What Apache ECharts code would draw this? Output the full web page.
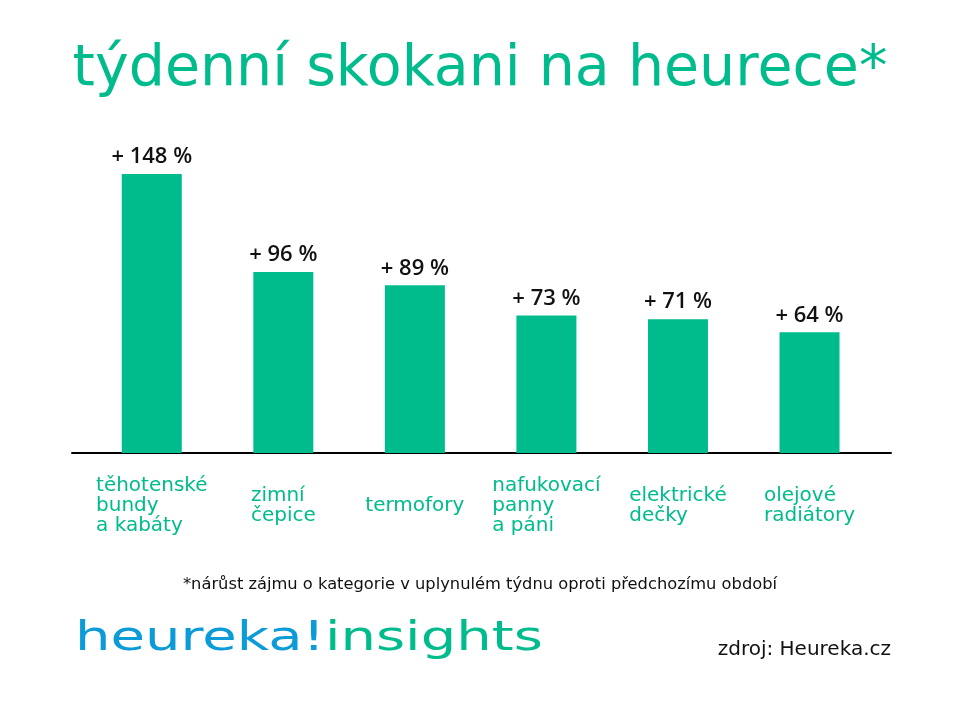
<!DOCTYPE html>
<html>
<head>
<meta charset="utf-8">
<script src="https://cdn.jsdelivr.net/npm/echarts@6/dist/echarts.min.js"></script>
<style>html,body{margin:0;padding:0;background:#fff}#c{width:960px;height:720px}</style>
</head>
<body>
<div id="c"></div>
<script>
const categories = ['těhotenské\nbundy\na kabáty', 'zimní\nčepice', 'termofory', 'nafukovací\npanny\na páni', 'elektrické\ndečky', 'olejové\nradiátory'];
const values = [148, 96, 89, 73, 71, 64];
const titleText = 'týdenní skokani na heurece*';
const footnoteText = '*nárůst zájmu o kategorie v uplynulém týdnu oproti předchozímu období';
const logoBlue = 'heureka!';
const logoGreen = 'insights';
const sourceText = 'zdroj: Heureka.cz';

const GREEN = '#00BC8D';
const BLUE = '#0A9BD8';
const FONT = '"DejaVu Sans", sans-serif';

const chart = echarts.init(document.getElementById('c'));
chart.setOption({
  backgroundColor: '#fff',
  animation: false,
  grid: [
    { left: 86, right: 84.7, top: 151.4, bottom: 267 },
    { left: 72, right: 69, top: 151.4, bottom: 267 }
  ],
  xAxis: [
    {
      type: 'category', gridIndex: 0, data: categories,
      axisLine: { show: false }, axisTick: { show: false },
      axisLabel: {
        interval: 0, margin: 53, verticalAlign: 'middle', align: 'center',
        formatter: v => v.split('\n').map(s => '{a|' + s + '}').join('\n'),
        rich: { a: { align: 'left', color: GREEN, fontFamily: FONT, fontSize: 20, lineHeight: 20 } }
      }
    },
    {
      type: 'category', gridIndex: 1, data: [''],
      axisLine: { show: true, lineStyle: { color: '#000', width: 2 } },
      axisTick: { show: false }, axisLabel: { show: false }
    }
  ],
  yAxis: [
    { type: 'value', gridIndex: 0, min: 0, max: 160, show: false, splitLine: { show: false } },
    { type: 'value', gridIndex: 1, min: 0, max: 160, show: false, splitLine: { show: false } }
  ],
  series: [{
    type: 'bar', data: values, barWidth: 60,
    itemStyle: { color: GREEN },
    label: {
      show: true, position: 'top', distance: 6,
      formatter: p => '+ ' + p.value + ' %',
      color: '#111', fontFamily: '"Open Sans", sans-serif', fontWeight: 600, fontSize: 22
    }
  }],
  graphic: [
    { type: 'text', x: 480, y: 70, style: { text: titleText, fill: GREEN, font: '500 57px ' + FONT, textAlign: 'center', textVerticalAlign: 'middle' } },
    { type: 'text', x: 480, y: 585, style: { text: footnoteText, fill: '#111', font: '16.3px ' + FONT, textAlign: 'center', textVerticalAlign: 'middle' } },
    { type: 'text', x: 75, y: 640, scaleX: 1.4, scaleY: 1,
      style: {
        text: '{b|' + logoBlue + '}{g|' + logoGreen + '}', textAlign: 'left', textVerticalAlign: 'middle',
        font: '500 40px ' + FONT,
        rich: { b: { fill: BLUE, fontSize: 40, fontWeight: 500, fontFamily: FONT }, g: { fill: GREEN, fontSize: 40, fontWeight: 500, fontFamily: FONT } }
      } },
    { type: 'text', x: 891, y: 650, style: { text: sourceText, fill: '#111', font: '20px ' + FONT, textAlign: 'right', textVerticalAlign: 'middle' } }
  ]
});
</script>
</body>
</html>
